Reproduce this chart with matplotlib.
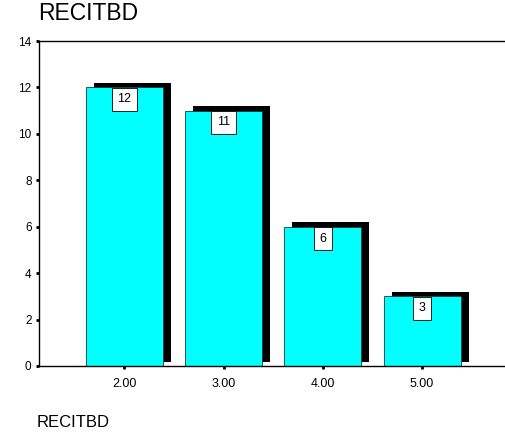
import matplotlib
matplotlib.use("Agg")
import matplotlib.pyplot as plt
from matplotlib.patches import Rectangle
from matplotlib.transforms import ScaledTranslation

plt.rcParams['font.family'] = ['Liberation Sans', 'DejaVu Sans']

# data
categories = [2.0, 3.0, 4.0, 5.0]
tick_labels = ['2.00', '3.00', '4.00', '5.00']
counts = [12, 11, 6, 3]

BAR_W = 0.775
CYAN = '#00ffff'

fig = plt.figure(figsize=(5.05, 4.36), dpi=100)
ax = fig.add_axes([38.5 / 505, 1 - 366 / 436, 1 - 38.5 / 505 + 0.01, (366 - 41) / 436])
ax.set_xlim(1.135, 5.886)
ax.set_ylim(0, 14)

# drop shadow: same rectangle shifted right/up by a few pixels
shadow_off = ScaledTranslation(8 / 100, 4.5 / 100, fig.dpi_scale_trans)
for x, v in zip(categories, counts):
    ax.add_patch(Rectangle((x - BAR_W / 2, 0), BAR_W, v, facecolor='black',
                           edgecolor='none', transform=ax.transData + shadow_off, zorder=1))

ax.bar(categories, counts, width=BAR_W, color=CYAN, edgecolor='#1a3a3a',
       linewidth=0.6, zorder=2)

for x, v in zip(categories, counts):
    ax.annotate(str(v), (x, v), xytext=(0, -4.2), textcoords='offset points',
                ha='center', va='top', fontsize=9, zorder=4,
                bbox=dict(boxstyle='square,pad=0.45', facecolor='white',
                          edgecolor='black', linewidth=0.6))

ax.set_xticks(categories)
ax.set_xticklabels(tick_labels)
ax.set_yticks(range(0, 15, 2))
ax.tick_params(axis='y', length=2, width=2, pad=3, labelsize=8.5, direction='out')
ax.tick_params(axis='x', length=2.5, width=2, pad=6, labelsize=9, direction='out')

ax.spines['right'].set_visible(False)
for s in ['left', 'bottom', 'top']:
    ax.spines[s].set_linewidth(1.0)

fig.text(38 / 505, 1 - 20 / 436, 'RECITBD', fontsize=16.5, ha='left', va='baseline')
fig.text(37 / 505, 1 - 427 / 436, 'RECITBD', fontsize=12, ha='left', va='baseline')

fig.savefig('out.png', dpi=100, facecolor='white')
